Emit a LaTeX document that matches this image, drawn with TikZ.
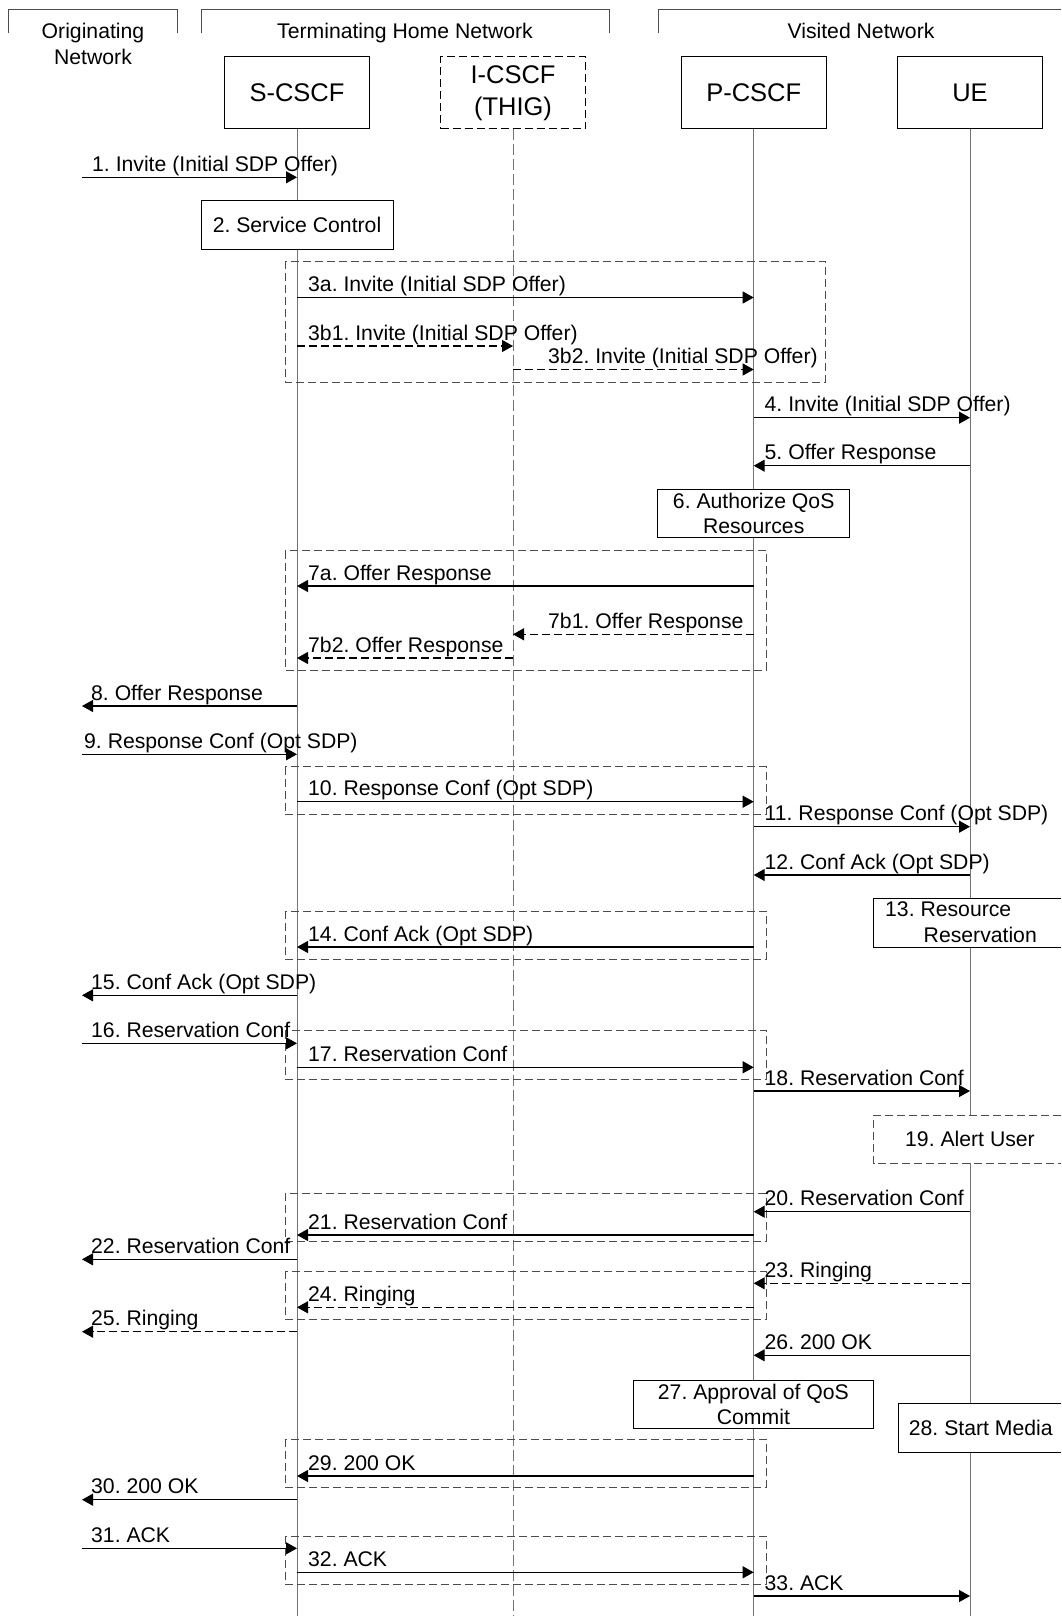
\documentclass[tikz,border=0pt]{standalone}
\usepackage{fontspec}
\setmainfont{Liberation Sans}
\usetikzlibrary{arrows.meta}
\frenchspacing
\tikzset{
  lifeline/.style={draw=black!55, line width=1pt},
  ilifeline/.style={lifeline, dash pattern=on 11pt off 4pt},
  msg/.style={draw=black, line width=1.2pt, -{Triangle[length=11pt,width=12pt]}},
  dmsg/.style={msg, dash pattern=on 8pt off 4pt},
  grp/.style={draw=black!70, line width=1pt, dash pattern=on 8pt off 4pt},
  brk/.style={draw=black!70, line width=1pt},
  actbox/.style={draw=black, line width=1pt, fill=white},
  hdr/.style={draw=black, line width=1pt, fill=white, minimum width=145pt, minimum height=72pt,
    inner sep=0pt, font=\fontsize{25.5}{32}\selectfont, align=center},
  lbl/.style={anchor=base west, inner sep=0pt, font=\fontsize{21.2}{25}\selectfont},
  clbl/.style={anchor=base, inner sep=0pt, font=\fontsize{21.2}{25}\selectfont},
  boxtxt/.style={draw=black, line width=1pt, fill=white, inner sep=0pt, align=center,
    font=\fontsize{21.2}{25}\selectfont}
}
\newcommand\mymsg[7]{%
  \draw[#1] (#2 |- 0,#4) -- (#3 |- 0,#4);
  \node[lbl] (#7) at (#5,#4-6) {#6};}
\begin{document}
\begin{tikzpicture}[x=1pt,y=-1pt]
\useasboundingbox (0,0) rectangle (1061,1616);
\fill[white] (0,0) rectangle (1061,1616);

% network brackets
\draw[brk] (8,33) |- (177,10) -- (177,33);
\draw[brk] (201,33) |- (609,10) -- (609,33);
\draw[brk] (658,33) |- (1061,10);
\node[clbl] (onet1) at (93,39) {Originating};
\node[clbl] (onet2) at (93,65) {Network};
\node[clbl] (thn) at (405,39) {Terminating Home Network};
\node[clbl] (vn) at (861,39) {Visited Network};

% header boxes
\node[hdr] (S) at (297,93) {S-CSCF};
\node[hdr, dash pattern=on 8pt off 4pt] (I) at (513,93) {I-CSCF\\(THIG)};
\node[hdr] (P) at (753.7,93) {P-CSCF};
\node[hdr] (U) at (970,93) {UE};
\coordinate (O) at (82,0);

% lifelines
\draw[lifeline] (S.south) -- (S.south |- 0,1616);
\draw[ilifeline] (I.south) -- (I.south |- 0,1616);
\draw[lifeline] (P.south) -- (P.south |- 0,1616);
\draw[lifeline] (U.south) -- (U.south |- 0,1616);

% group boxes
\draw[grp] (285,261) rectangle (825,382);
\draw[grp] (285,550.7) rectangle (766,670);
\draw[grp] (285,766.7) rectangle (766,814.7);
\draw[grp] (285,911) rectangle (766,959);
\draw[grp] (285,1030.7) rectangle (766,1079);
\draw[grp] (285,1193.3) rectangle (766,1241);
\draw[grp] (285,1271) rectangle (766,1319.3);
\draw[grp] (285,1439.3) rectangle (766,1487.3);
\draw[grp] (285,1536) rectangle (766,1584);

% activity boxes
\node[boxtxt, minimum width=192pt, minimum height=48pt] (b2) at (297,225) {2. Service Control};
\node[boxtxt, minimum width=192.2pt, minimum height=48pt] (b6) at (753.7,513.7) {6. Authorize QoS\\Resources};
\node[boxtxt, minimum width=240.2pt, minimum height=48.3pt] (b27) at (753.4,1404.2) {27. Approval of QoS\\Commit};

\fill[white] (873.5,898) rectangle (1061,947);
\draw[line width=1pt] (1061,898) -- (873.5,898) -- (873.5,947) -- (1061,947);
\node[lbl] (b13a) at (885,916.7) {13. Resource};
\node[lbl] (b13b) at (923.5,942.5) {Reservation};

\fill[white] (873.5,1115.3) rectangle (1061,1163.3);
\draw[grp, draw=black!70] (1061,1115.3) -- (873.5,1115.3) -- (873.5,1163.3) -- (1061,1163.3);
\node[clbl] (b19) at (970,1146) {19. Alert User};

\fill[white] (898,1403.3) rectangle (1061,1452.3);
\draw[line width=1pt] (1061,1403.3) -- (898,1403.3) -- (898,1452.3) -- (1061,1452.3);
\node[lbl] (b28) at (908.7,1435) {28. Start Media};

% messages
\mymsg{msg}{O}{S}{177.3}{92}{1. Invite (Initial SDP Offer)}{m1}
\mymsg{msg}{S}{P}{297.5}{308}{3a. Invite (Initial SDP Offer)}{m3a}
\mymsg{dmsg}{S}{I}{346}{308}{3b1. Invite (Initial SDP Offer)}{m3b1}
\mymsg{dmsg}{I}{P}{369.5}{548}{3b2. Invite (Initial SDP Offer)}{m3b2}
\mymsg{msg}{P}{U}{417.7}{764.5}{4. Invite (Initial SDP Offer)}{m4}
\mymsg{msg}{U}{P}{465.7}{764.5}{5. Offer Response}{m5}
\mymsg{msg}{P}{S}{586}{308}{7a. Offer Response}{m7a}
\mymsg{dmsg}{P}{I}{634.3}{548}{7b1. Offer Response}{m7b1}
\mymsg{dmsg}{I}{S}{658}{308}{7b2. Offer Response}{m7b2}
\mymsg{msg}{S}{O}{706}{91}{8. Offer Response}{m8}
\mymsg{msg}{O}{S}{754.3}{84}{9. Response Conf (Opt SDP)}{m9}
\mymsg{msg}{S}{P}{801.7}{308}{10. Response Conf (Opt SDP)}{m10}
\mymsg{msg}{P}{U}{826.7}{764.5}{11. Response Conf (Opt SDP)}{m11}
\mymsg{msg}{U}{P}{875}{764.5}{12. Conf Ack (Opt SDP)}{m12}
\mymsg{msg}{P}{S}{947}{308}{14. Conf Ack (Opt SDP)}{m14}
\mymsg{msg}{S}{O}{995.3}{91}{15. Conf Ack (Opt SDP)}{m15}
\mymsg{msg}{O}{S}{1043.3}{91}{16. Reservation Conf}{m16}
\mymsg{msg}{S}{P}{1067.3}{308}{17. Reservation Conf}{m17}
\mymsg{msg}{P}{U}{1091}{764.5}{18. Reservation Conf}{m18}
\mymsg{msg}{U}{P}{1211.7}{764.5}{20. Reservation Conf}{m20}
\mymsg{msg}{P}{S}{1235}{308}{21. Reservation Conf}{m21}
\mymsg{msg}{S}{O}{1259.3}{91}{22. Reservation Conf}{m22}
\mymsg{dmsg}{U}{P}{1283.3}{764.5}{23. Ringing}{m23}
\mymsg{dmsg}{P}{S}{1307.3}{308}{24. Ringing}{m24}
\mymsg{dmsg}{S}{O}{1331.7}{91}{25. Ringing}{m25}
\mymsg{msg}{U}{P}{1355.3}{764.5}{26. 200 OK}{m26}
\mymsg{msg}{P}{S}{1476}{308}{29. 200 OK}{m29}
\mymsg{msg}{S}{O}{1499.7}{91}{30. 200 OK}{m30}
\mymsg{msg}{O}{S}{1548.3}{91}{31. ACK}{m31}
\mymsg{msg}{S}{P}{1572.3}{308}{32. ACK}{m32}
\mymsg{msg}{P}{U}{1596}{764.5}{33. ACK}{m33}
\end{tikzpicture}
\end{document}
